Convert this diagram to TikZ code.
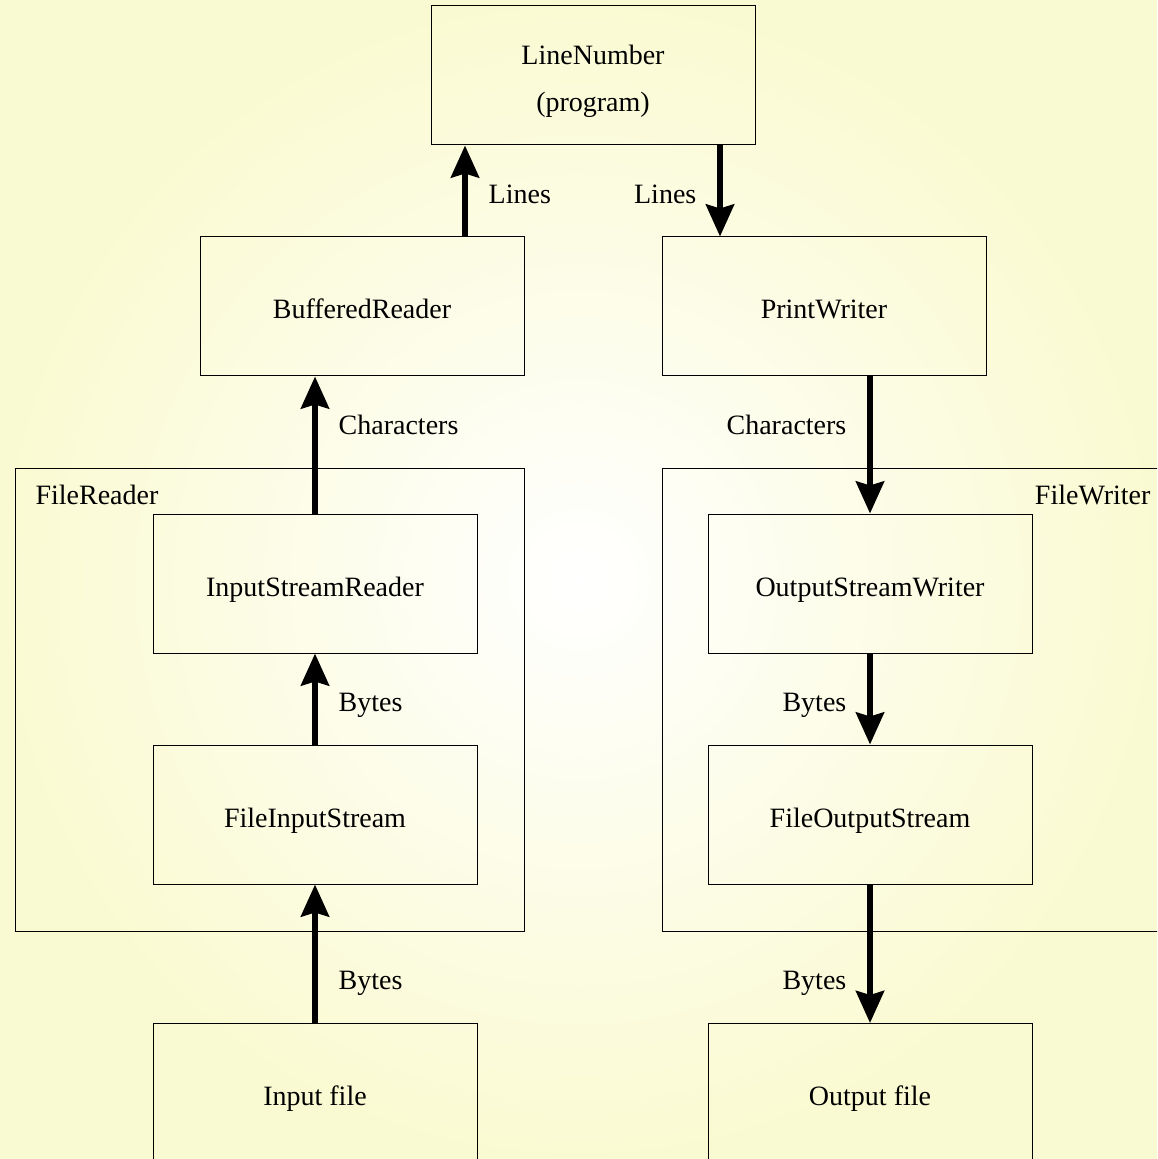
\documentclass[tikz,border=0pt]{standalone}
\usepackage{fontspec}
\setmainfont{Liberation Serif}
\usepackage{tikz}
\usetikzlibrary{arrows.meta, positioning}
\definecolor{bgouter}{RGB}{250,250,210}

\begin{document}
\begin{tikzpicture}[x=0.5pt, y=-0.5pt,
  every node/.style={font=\fontsize{14}{23.5}\selectfont},
  box/.style={draw, line width=0.5pt, minimum width=162pt, minimum height=69.5pt, align=center, text height=12.5pt, text depth=0pt},
  group/.style={draw, line width=0.5pt, minimum width=254.5pt, minimum height=231.5pt},
  tag/.style={yshift=-1.5pt},
  flow/.style={line width=3pt, -{Stealth[length=16pt, width=14pt, inset=2pt]}}]
\useasboundingbox (0,0) rectangle (1157,1159);
\shade[inner color=white, outer color=bgouter] (0,0) rectangle (1157,1159);
\clip (0,0) rectangle (1157,1159);
% outer wrappers
\node[group] (FR) at (269.5,699.5) {};
\node[group] (FW) at (916.5,699.5) {};
\node[anchor=west] at ([xshift=7pt, yshift=-13.5pt]FR.north west) {FileReader};
\node[anchor=east] at ([xshift=-7pt, yshift=-13.5pt]FW.north east) {FileWriter};
% streams
\node[box, text height=35.8pt] (LN) at (593,75.5) {LineNumber\\(program)};
\node[box] (BR) at (362,306.5) {BufferedReader};
\node[box] (PW) at (824,306.5) {PrintWriter};
\node[box] (ISR) at (315,583.5) {InputStreamReader};
\node[box] (OSW) at (870,583.5) {OutputStreamWriter};
\node[box] (FIS) at (315,814.5) {FileInputStream};
\node[box] (FOS) at (870,814.5) {FileOutputStream};
\node[box] (IF) at (315,1093) {Input file};
\node[box] (OF) at (870,1093) {Output file};
% reading side
\draw[flow] ([xshift=51.5pt]BR.north) -- ([xshift=-64pt]LN.south) node[pos=0.467, right=7pt] {Lines};
\draw[flow] (ISR.north) -- ([xshift=-23.5pt]BR.south) node[pos=0.645, right=7pt] {Characters};
\draw[flow] (FIS.north) -- (ISR.south) node[tag, pos=0.467, right=7pt] {Bytes};
\draw[flow] (IF.north) -- (FIS.south) node[tag, pos=0.31, right=7pt] {Bytes};
% writing side
\draw[flow] ([xshift=63.5pt]LN.south) -- ([xshift=-52pt]PW.north) node[pos=0.533, left=7pt] {Lines};
\draw[flow] ([xshift=23pt]PW.south) -- (OSW.north) node[pos=0.355, left=7pt] {Characters};
\draw[flow] (OSW.south) -- (FOS.north) node[tag, pos=0.533, left=7pt] {Bytes};
\draw[flow] (FOS.south) -- (OF.north) node[tag, pos=0.69, left=7pt] {Bytes};
\end{tikzpicture}
\end{document}
